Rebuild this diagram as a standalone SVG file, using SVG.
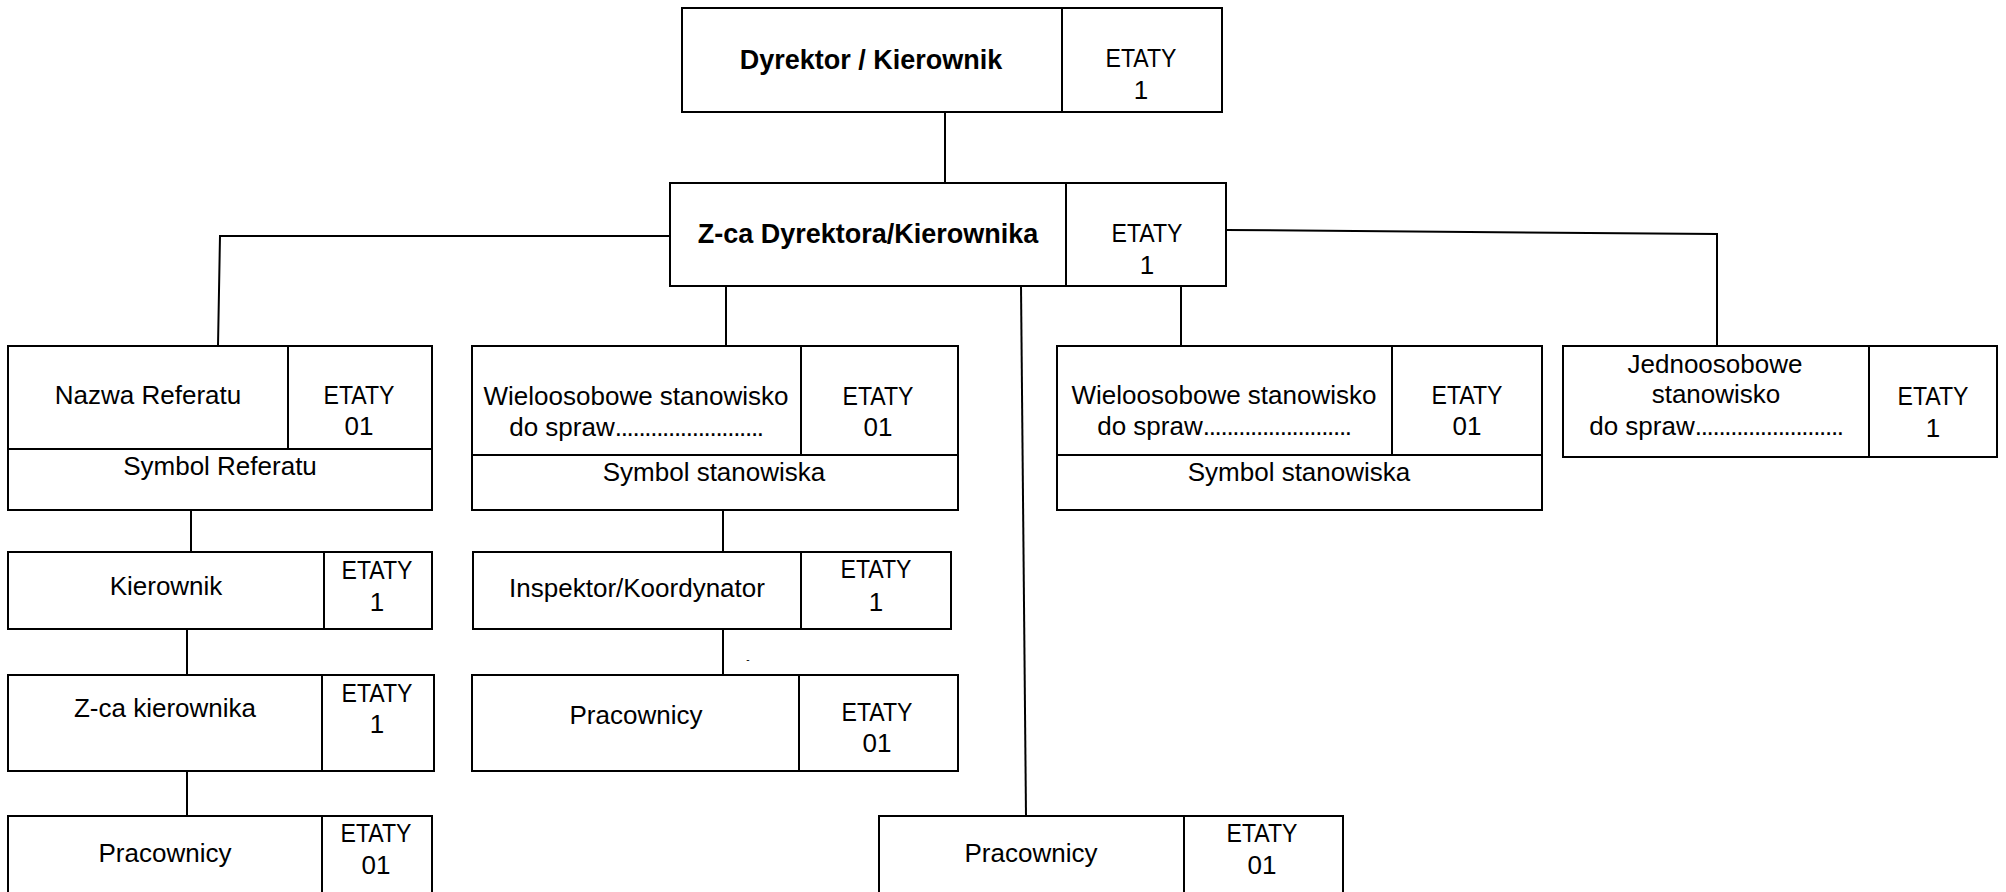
<svg xmlns="http://www.w3.org/2000/svg" width="2006" height="892" viewBox="0 0 2006 892">
<style>
.b{fill:#fff;stroke:#000;stroke-width:2}
.d{stroke:#000;stroke-width:2;fill:none}
.c{stroke:#000;stroke-width:2;fill:none}
text{font-family:"Liberation Sans",Arial,sans-serif;font-size:26px;fill:#000;text-anchor:middle}
.bold{font-weight:bold;font-size:27px}
</style>
<rect width="2006" height="892" fill="#fff"/>
<g id="connectors">
<path class="c" d="M945 112V183"/>
<path class="c" d="M670 236H220L218 346"/>
<path class="c" d="M726 286V346"/>
<path class="c" d="M1021 286L1026 816"/>
<path class="c" d="M1181 286V346"/>
<path class="c" d="M1226 230L1717 234V346"/>
<path class="c" d="M191 510V552"/>
<path class="c" d="M187 629V675"/>
<path class="c" d="M187 771V816"/>
<path class="c" d="M723 510V552"/>
<path class="c" d="M723 629V675"/>
<text x="748" y="663" style="font-size:10px">-</text>
</g>
<g id="dyrektor">
<rect class="b" x="682" y="8" width="540" height="104"/>
<path class="d" d="M1062 8V112"/>
<text class="bold" x="871" y="69">Dyrektor / Kierownik</text>
<text x="1141" y="67" textLength="71" lengthAdjust="spacingAndGlyphs">ETATY</text>
<text x="1141" y="99">1</text>
</g>
<g id="zastepca">
<rect class="b" x="670" y="183" width="556" height="103"/>
<path class="d" d="M1066 183V286"/>
<text class="bold" x="868" y="243">Z-ca Dyrektora/Kierownika</text>
<text x="1147" y="242" textLength="71" lengthAdjust="spacingAndGlyphs">ETATY</text>
<text x="1147" y="274">1</text>
</g>
<g id="referat">
<rect class="b" x="8" y="346" width="424" height="164"/>
<path class="d" d="M288 346V449M8 449H432"/>
<text x="148" y="404">Nazwa Referatu</text>
<text x="359" y="404" textLength="71" lengthAdjust="spacingAndGlyphs">ETATY</text>
<text x="359" y="435">01</text>
<text x="220" y="475">Symbol Referatu</text>
</g>
<g id="kierownik">
<rect class="b" x="8" y="552" width="424" height="77"/>
<path class="d" d="M324 552V629"/>
<text x="166" y="595">Kierownik</text>
<text x="377" y="579" textLength="71" lengthAdjust="spacingAndGlyphs">ETATY</text>
<text x="377" y="611">1</text>
</g>
<g id="zca-kierownika">
<rect class="b" x="8" y="675" width="426" height="96"/>
<path class="d" d="M322 675V771"/>
<text x="165" y="717">Z-ca kierownika</text>
<text x="377" y="702" textLength="71" lengthAdjust="spacingAndGlyphs">ETATY</text>
<text x="377" y="733">1</text>
</g>
<g id="pracownicy1">
<rect class="b" x="8" y="816" width="424" height="90"/>
<path class="d" d="M322 816V906"/>
<text x="165" y="862">Pracownicy</text>
<text x="376" y="842" textLength="71" lengthAdjust="spacingAndGlyphs">ETATY</text>
<text x="376" y="874">01</text>
</g>
<g id="wieloosobowe1">
<rect class="b" x="472" y="346" width="486" height="164"/>
<path class="d" d="M801 346V455M472 455H958"/>
<text x="636" y="405">Wieloosobowe stanowisko</text>
<text x="636" y="436">do spraw<tspan letter-spacing="-1.3">.........................</tspan></text>
<text x="878" y="405" textLength="71" lengthAdjust="spacingAndGlyphs">ETATY</text>
<text x="878" y="436">01</text>
<text x="714" y="481">Symbol stanowiska</text>
</g>
<g id="inspektor">
<rect class="b" x="473" y="552" width="478" height="77"/>
<path class="d" d="M801 552V629"/>
<text x="637" y="597">Inspektor/Koordynator</text>
<text x="876" y="578" textLength="71" lengthAdjust="spacingAndGlyphs">ETATY</text>
<text x="876" y="611">1</text>
</g>
<g id="pracownicy2">
<rect class="b" x="472" y="675" width="486" height="96"/>
<path class="d" d="M799 675V771"/>
<text x="636" y="724">Pracownicy</text>
<text x="877" y="721" textLength="71" lengthAdjust="spacingAndGlyphs">ETATY</text>
<text x="877" y="752">01</text>
</g>
<g id="wieloosobowe2">
<rect class="b" x="1057" y="346" width="485" height="164"/>
<path class="d" d="M1392 346V455M1057 455H1542"/>
<text x="1224" y="404">Wieloosobowe stanowisko</text>
<text x="1224" y="435">do spraw<tspan letter-spacing="-1.3">.........................</tspan></text>
<text x="1467" y="404" textLength="71" lengthAdjust="spacingAndGlyphs">ETATY</text>
<text x="1467" y="435">01</text>
<text x="1299" y="481">Symbol stanowiska</text>
</g>
<g id="jednoosobowe">
<rect class="b" x="1563" y="346" width="434" height="111"/>
<path class="d" d="M1869 346V457"/>
<text x="1715" y="373">Jednoosobowe</text>
<text x="1716" y="403">stanowisko</text>
<text x="1716" y="435">do spraw<tspan letter-spacing="-1.3">.........................</tspan></text>
<text x="1933" y="405" textLength="71" lengthAdjust="spacingAndGlyphs">ETATY</text>
<text x="1933" y="437">1</text>
</g>
<g id="pracownicy3">
<rect class="b" x="879" y="816" width="464" height="90"/>
<path class="d" d="M1184 816V906"/>
<text x="1031" y="862">Pracownicy</text>
<text x="1262" y="842" textLength="71" lengthAdjust="spacingAndGlyphs">ETATY</text>
<text x="1262" y="874">01</text>
</g>
</svg>
